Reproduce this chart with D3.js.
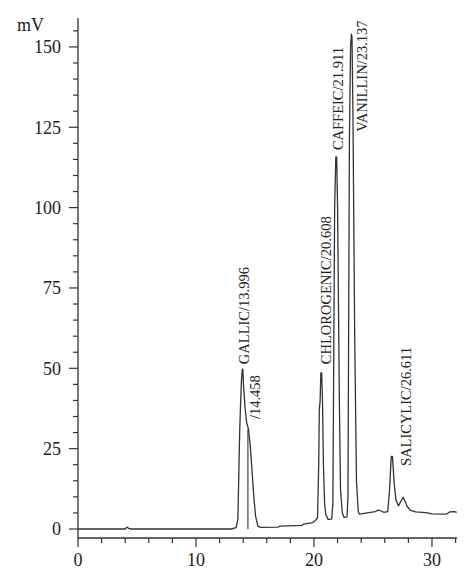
<!DOCTYPE html>
<html>
<head>
<meta charset="utf-8">
<script src="https://cdn.jsdelivr.net/npm/d3@7"></script>
<style>
  html, body { margin: 0; padding: 0; background: #fff; }
  svg { display: block; }
  text { font-family: "Liberation Serif", "DejaVu Serif", serif; fill: #222; }
</style>
</head>
<body>
<div id="chart"></div>
<script>
// Chromatogram trace: retention time (min) and signal (mV)
var traceTime = [0, 4.0, 4.15, 4.3, 4.5, 13.0, 13.4, 13.55, 13.7, 13.77, 13.85, 13.92, 13.97,
    14.02, 14.15, 14.3, 14.45, 14.6, 14.75, 14.9, 15.05, 15.25, 15.5, 17.0, 17.1, 19.0, 19.1,
    19.9, 20.15, 20.3, 20.4, 20.45, 20.52, 20.58, 20.65, 20.72, 20.8, 20.9, 21.0, 21.2, 21.5,
    21.6, 21.75, 21.85, 21.92, 22.0, 22.15, 22.25, 22.4, 22.55, 22.8, 22.88, 23.0, 23.1, 23.17,
    23.22, 23.3, 23.45, 23.6, 23.75, 23.85, 24.5, 25.2, 25.45, 25.7, 25.9, 26.25, 26.4, 26.55,
    26.65, 26.8, 26.95, 27.15, 27.35, 27.55, 27.7, 27.9, 28.15, 28.6, 29.5, 30.0, 31.2, 31.5,
    31.9, 32.1];
var traceMv = [0, 0, 0.6, 0.2, 0, 0, 0.4, 3, 30, 38, 46, 49.7, 49.7,
    45, 38, 33, 31, 26, 18, 10, 4, 0.8, 0.5, 0.6, 0.9, 1.1, 1.5,
    2.0, 2.8, 3.5, 20, 37, 40, 48.6, 48.6, 40, 20, 8, 4.5, 3.0, 3.1,
    8, 100, 115.8, 115.8, 100, 40, 12, 5, 3.6, 3.8, 10, 120, 150, 154,
    153, 130, 60, 15, 5.5, 4.6, 5.0, 5.4, 5.9, 5.6, 5.2, 5.4, 12, 22.6,
    22.6, 14, 9, 7.2, 8.5, 9.9, 8.8, 7, 5.9, 5.3, 5.1, 4.7, 4.6, 5.3,
    5.4, 5.2];

// drop line under the shoulder peak
var dropTime = [14.4];
var dropMv = [31];

// peak labels and where they sit (time, mV of the label's lower end)
var peakLabels = ["GALLIC/13.996", "/14.458", "CHLOROGENIC/20.608", "CAFFEIC/21.911",
    "VANILLIN/23.137", "SALICYLIC/26.611"];
var labelTime = [14.07, 15.0, 21.02, 22.06, 24.04, 27.8];
var labelMv = [51.3, 34.2, 51.3, 117.9, 123.6, 19.6];

var xTicks = [0, 10, 20, 30];
var yTicks = [0, 25, 50, 75, 100, 125, 150];

var width = 474, height = 582;

var svg = d3.select('#chart').append('svg')
    .attr('width', width)
    .attr('height', height);

var x = d3.scaleLinear().domain([0, 32.12]).range([78, 457]);
var y = d3.scaleLinear().domain([-2.8, 159]).range([538, 18]);

// y axis line and ticks
svg.append('line')
    .attr('x1', 78).attr('x2', 78)
    .attr('y1', y(159)).attr('y2', y(-2.8))
    .attr('stroke', '#333').attr('stroke-width', 1.3);

var yMinor = d3.range(5, 159, 5).filter(function(v) { return v % 25 !== 0; });
svg.append('g').selectAll('line')
    .data(yMinor).enter().append('line')
    .attr('x1', 73).attr('x2', 78)
    .attr('y1', function(d) { return y(d); })
    .attr('y2', function(d) { return y(d); })
    .attr('stroke', '#333').attr('stroke-width', 1.2);

svg.append('g').selectAll('line')
    .data(yTicks).enter().append('line')
    .attr('x1', 69).attr('x2', 78)
    .attr('y1', function(d) { return y(d); })
    .attr('y2', function(d) { return y(d); })
    .attr('stroke', '#333').attr('stroke-width', 1.2);

svg.append('g').selectAll('text')
    .data(yTicks).enter().append('text')
    .attr('x', 61)
    .attr('y', function(d) { return y(d); })
    .attr('dy', '0.35em')
    .attr('text-anchor', 'end')
    .attr('font-size', '18px')
    .text(function(d) { return d; });

svg.append('text')
    .attr('x', 17).attr('y', 31)
    .attr('font-size', '18px')
    .text('mV');

// x axis line and ticks
svg.append('line')
    .attr('x1', x(0)).attr('x2', x(32.12))
    .attr('y1', 538).attr('y2', 538)
    .attr('stroke', '#333').attr('stroke-width', 1.3);

var xMinor = d3.range(2, 33, 2).filter(function(v) { return v % 10 !== 0; });
svg.append('g').selectAll('line')
    .data(xMinor).enter().append('line')
    .attr('x1', function(d) { return x(d); })
    .attr('x2', function(d) { return x(d); })
    .attr('y1', 538).attr('y2', 543)
    .attr('stroke', '#333').attr('stroke-width', 1.2);

svg.append('g').selectAll('line')
    .data(xTicks).enter().append('line')
    .attr('x1', function(d) { return x(d); })
    .attr('x2', function(d) { return x(d); })
    .attr('y1', 538).attr('y2', 547)
    .attr('stroke', '#333').attr('stroke-width', 1.2);

svg.append('g').selectAll('text')
    .data(xTicks).enter().append('text')
    .attr('x', function(d) { return x(d); })
    .attr('y', 566)
    .attr('text-anchor', 'middle')
    .attr('font-size', '18px')
    .text(function(d) { return d; });

// trace
var points = traceTime.map(function(t, i) { return [t, traceMv[i]]; });
var line = d3.line()
    .x(function(d) { return x(d[0]); })
    .y(function(d) { return y(d[1]); });

svg.append('path')
    .datum(points)
    .attr('d', line)
    .attr('fill', 'none')
    .attr('stroke', '#333')
    .attr('stroke-width', 1.3)
    .attr('stroke-linejoin', 'round');

// drop lines
svg.append('g').selectAll('line')
    .data(dropTime).enter().append('line')
    .attr('x1', function(d) { return x(d); })
    .attr('x2', function(d) { return x(d); })
    .attr('y1', y(0))
    .attr('y2', function(d, i) { return y(dropMv[i]); })
    .attr('stroke', '#333').attr('stroke-width', 1.1);

// peak labels, rotated
svg.append('g').selectAll('text')
    .data(peakLabels).enter().append('text')
    .attr('transform', function(d, i) {
        return 'translate(' + x(labelTime[i]) + ',' + y(labelMv[i]) + ') rotate(-90)';
    })
    .attr('dy', '0.35em')
    .attr('font-size', '14.5px')
    .text(function(d) { return d; });
</script>
</body>
</html>
